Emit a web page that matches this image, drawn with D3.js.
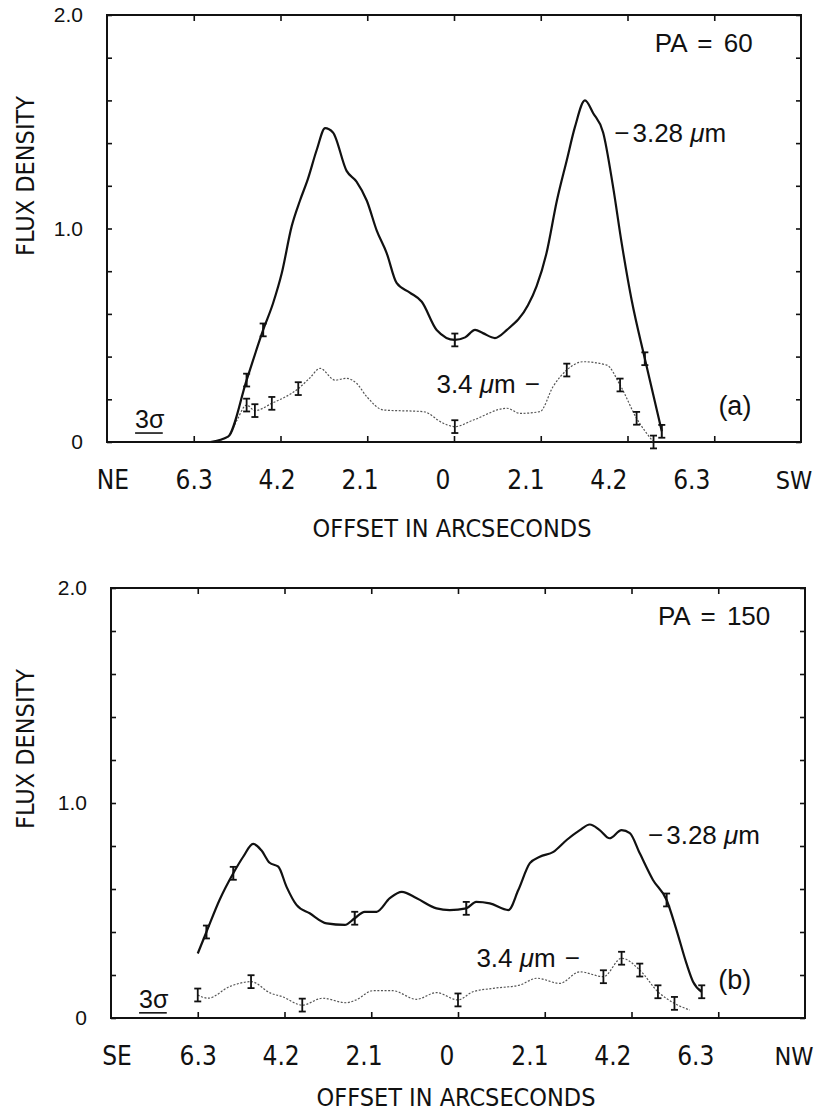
<!DOCTYPE html>
<html>
<head>
<meta charset="utf-8">
<script src="https://cdn.jsdelivr.net/npm/d3@7"></script>
<style>
body { margin: 0; background: #fff; }
svg { display: block; }
</style>
</head>
<body>
<script>
// offsets in arcsec (negative = NE / SE side), flux density in plot units

// panel (a), PA = 60
var offA328  = [-5.9, -5.47, -5.02, -4.62, -4.38, -4.17, -3.93, -3.73, -3.54, -3.32, -3.12, -2.93, -2.6, -2.36, -2.11, -1.87, -1.63, -1.39, -1.07, -0.78, -0.42, 0.02, 0.27, 0.51, 0.7, 0.99, 1.28, 1.79, 2.0, 2.24, 2.49, 2.73, 2.93, 3.17, 3.37, 3.61, 3.85, 4.06, 4.3, 4.62, 5.03];
var fluxA328 = [0, 0.025, 0.29, 0.525, 0.65, 0.79, 1.01, 1.13, 1.23, 1.37, 1.47, 1.45, 1.27, 1.22, 1.13, 0.99, 0.885, 0.745, 0.70, 0.657, 0.525, 0.478, 0.49, 0.525, 0.51, 0.487, 0.525, 0.64, 0.73, 0.885, 1.13, 1.32, 1.477, 1.60, 1.54, 1.45, 1.196, 0.93, 0.665, 0.39, 0.05];
var offA34   = [-5.9, -5.47, -5.26, -5.02, -4.82, -4.41, -3.77, -3.49, -3.24, -2.88, -2.6, -2.36, -2.11, -1.71, -0.74, -0.26, 0.02, 0.47, 1.28, 1.6, 2.08, 2.4, 2.73, 3.13, 3.7, 4.02, 4.42, 4.83];
var fluxA34  = [0, 0.025, 0.10, 0.173, 0.147, 0.181, 0.25, 0.30, 0.345, 0.29, 0.298, 0.275, 0.212, 0.15, 0.142, 0.088, 0.072, 0.103, 0.158, 0.134, 0.142, 0.26, 0.337, 0.376, 0.36, 0.267, 0.111, 0.0];
var errA328  = [-5.02, -4.62, 0.02, 4.62, 5.03];
var errA34   = [-5.02, -4.82, -4.41, -3.77, 0.02, 2.73, 4.02, 4.42, 4.83];

// panel (b), PA = 150
var offB328  = [-6.3, -6.09, -5.77, -5.44, -5.2, -4.96, -4.76, -4.56, -4.35, -4.15, -3.91, -3.59, -3.18, -2.74, -2.5, -2.26, -1.97, -1.65, -1.36, -1.0, -0.52, -0.2, 0.2, 0.44, 0.77, 1.22, 1.46, 1.74, 1.98, 2.31, 2.63, 2.95, 3.19, 3.43, 3.67, 3.96, 4.16, 4.4, 4.72, 5.05, 5.29, 5.53, 5.69, 5.9];
var fluxB328 = [0.30, 0.40, 0.55, 0.673, 0.75, 0.81, 0.78, 0.722, 0.704, 0.61, 0.526, 0.487, 0.44, 0.433, 0.464, 0.494, 0.494, 0.557, 0.587, 0.557, 0.51, 0.502, 0.51, 0.54, 0.533, 0.502, 0.595, 0.72, 0.75, 0.773, 0.828, 0.874, 0.90, 0.874, 0.836, 0.874, 0.86, 0.766, 0.642, 0.549, 0.409, 0.254, 0.169, 0.122];
var offB34   = [-6.3, -6.05, -5.53, -5.01, -4.53, -4.25, -3.77, -3.28, -2.71, -2.47, -2.06, -1.58, -1.01, -0.52, 0.0, 0.36, 0.85, 1.49, 1.91, 2.46, 2.95, 3.52, 3.96, 4.4, 4.84, 5.24, 5.61];
var fluxB34  = [0.107, 0.092, 0.146, 0.169, 0.115, 0.099, 0.06, 0.092, 0.071, 0.084, 0.127, 0.127, 0.087, 0.118, 0.084, 0.122, 0.138, 0.153, 0.185, 0.161, 0.215, 0.192, 0.278, 0.223, 0.122, 0.068, 0.037];
var errB328  = [-6.09, -5.44, -2.5, 0.2, 5.05, 5.9];
var errB34   = [-6.3, -5.01, -3.77, 0.0, 3.52, 3.96, 4.4, 4.84, 5.24];

// axes
var xTicks = [-6.3, -4.2, -2.1, 0, 2.1, 4.2, 6.3];
var yTicks = [0, 0.2, 0.4, 0.6, 0.8, 1.0, 1.2, 1.4, 1.6, 1.8, 2.0];
var yLabels = [0, 1, 2];
var errHalf = 0.03;      // half length of the error bars
var threeSigma = [0.042, 0.024];

var narrow = "'Liberation Sans Narrow', 'DejaVu Sans Condensed', 'Liberation Sans', sans-serif";
var regular = "'Liberation Sans', Arial, sans-serif";

var svg = d3.select("body").append("svg")
  .attr("width", 816).attr("height", 1114);

var panels = [
  {top: 15, bottom: 442, left: 107, right: 801, ends: ["NE", "SW"], pa: "PA = 60", tag: "(a)", titleDy: 86, endR: 7,
   off328: offA328, flux328: fluxA328, off34: offA34, flux34: fluxA34, err328: errA328, err34: errA34, sig: threeSigma[0],
   lab328: [3.88, 1.45], lab34: [2.08, 0.27], labTag: [6.4, 0.17], labPa: [4.86, 1.87]},
  {top: 588, bottom: 1018, left: 111, right: 805, ends: ["SE", "NW"], pa: "PA = 150", tag: "(b)", titleDy: 79, endR: 11,
   off328: offB328, flux328: fluxB328, off34: offB34, flux34: fluxB34, err328: errB328, err34: errB34, sig: threeSigma[1],
   lab328: [4.6, 0.85], lab34: [2.95, 0.28], labTag: [6.3, 0.18], labPa: [4.84, 1.87]}
];

panels.forEach(function (p) {
  var x = d3.scaleLinear().domain([-8.4, 8.4]).range([p.left, p.right]);
  var y = d3.scaleLinear().domain([0, 2]).range([p.bottom, p.top]);
  // tick labels were typeset a bit tighter than the ticks
  var c = (p.left + p.right) / 2, hw = (p.right - p.left) / 2;
  var xLab = d3.scaleLinear().domain([-8.4, 8.4]).range([c - 0.956 * hw - 11.5, c + 0.956 * hw - 11.5]);

  var g = svg.append("g");

  // inward ticks, all four sides
  g.append("g").attr("transform", "translate(0," + p.bottom + ")")
    .call(d3.axisBottom(x).tickValues(xTicks).tickSize(-6).tickFormat(""));
  g.append("g").attr("transform", "translate(0," + p.top + ")")
    .call(d3.axisTop(x).tickValues(xTicks).tickSize(-6).tickFormat(""));
  g.append("g").attr("transform", "translate(" + p.left + ",0)")
    .call(d3.axisLeft(y).tickValues(yTicks).tickSize(-5).tickFormat(""));
  g.append("g").attr("transform", "translate(" + p.right + ",0)")
    .call(d3.axisRight(y).tickValues(yTicks).tickSize(-5).tickFormat(""));
  g.selectAll(".domain").remove();
  g.selectAll(".tick line").attr("stroke", "#111").attr("stroke-width", 1.6);

  g.append("rect")
    .attr("x", p.left).attr("y", p.top)
    .attr("width", p.right - p.left).attr("height", p.bottom - p.top)
    .attr("fill", "none").attr("stroke", "#111").attr("stroke-width", 2);

  // y tick labels
  var yl = g.append("g").attr("transform", "translate(" + p.left + ",0)")
    .call(d3.axisLeft(y).tickValues(yLabels).tickSize(0).tickPadding(24)
      .tickFormat(function (d) { return d === 0 ? "0" : d.toFixed(1); }));
  yl.select(".domain").remove();
  yl.attr("font-family", regular).attr("font-size", 21);
  yl.selectAll("text").attr("fill", "#111");

  // x tick labels
  var xl = g.append("g").attr("transform", "translate(0," + (p.bottom + 38) + ")")
    .call(d3.axisBottom(xLab).tickValues(xTicks).tickSize(0)
      .tickFormat(function (d) { return d === 0 ? "0" : Math.abs(d).toFixed(1); }));
  xl.select(".domain").remove();
  xl.attr("font-family", narrow).attr("font-size", 26);
  xl.selectAll("text").attr("y", 0).attr("dy", "0.35em").attr("fill", "#111");

  g.append("text").attr("x", p.left + 6).attr("y", p.bottom + 38).attr("dy", "0.35em")
    .attr("text-anchor", "middle").attr("font-family", narrow).attr("font-size", 26).attr("fill", "#111")
    .text(p.ends[0]);
  g.append("text").attr("x", p.right - p.endR).attr("y", p.bottom + 38).attr("dy", "0.35em")
    .attr("text-anchor", "middle").attr("font-family", narrow).attr("font-size", 25).attr("fill", "#111")
    .text(p.ends[1]);

  // axis titles
  g.append("text").attr("x", c - 2).attr("y", p.bottom + p.titleDy).attr("dy", "0.35em")
    .attr("text-anchor", "middle").attr("font-family", narrow).attr("font-size", 25).attr("fill", "#111")
    .text("OFFSET IN ARCSECONDS");
  g.append("text")
    .attr("transform", "translate(25," + (p.top + 161) + ") rotate(-90)")
    .attr("dy", "0.35em").attr("text-anchor", "middle")
    .attr("font-family", narrow).attr("font-size", 25).attr("fill", "#111")
    .text("FLUX DENSITY");

  // curves
  var line = d3.line()
    .x(function (d) { return x(d[0]); })
    .y(function (d) { return y(d[1]); })
    .curve(d3.curveMonotoneX);

  var s328 = d3.zip(p.off328, p.flux328);
  var s34 = d3.zip(p.off34, p.flux34);

  g.append("path").datum(s34).attr("d", line)
    .attr("fill", "none").attr("stroke", "#555").attr("stroke-width", 1.2)
    .attr("stroke-dasharray", "2,1.6");
  g.append("path").datum(s328).attr("d", line)
    .attr("fill", "none").attr("stroke", "#111").attr("stroke-width", 2.2);

  // error bars
  function errBars(offs, series, w) {
    var pts = offs.map(function (o) {
      return series.find(function (d) { return d[0] === o; });
    });
    var eb = g.append("g").selectAll("g").data(pts).enter().append("g");
    eb.append("line")
      .attr("x1", function (d) { return x(d[0]); }).attr("x2", function (d) { return x(d[0]); })
      .attr("y1", function (d) { return y(d[1] - errHalf); }).attr("y2", function (d) { return y(d[1] + errHalf); })
      .attr("stroke", "#111").attr("stroke-width", w);
    [-errHalf, errHalf].forEach(function (e) {
      eb.append("line")
        .attr("x1", function (d) { return x(d[0]) - 3.5; }).attr("x2", function (d) { return x(d[0]) + 3.5; })
        .attr("y1", function (d) { return y(d[1] + e); }).attr("y2", function (d) { return y(d[1] + e); })
        .attr("stroke", "#111").attr("stroke-width", 1.8);
    });
  }
  errBars(p.err328, s328, 2);
  errBars(p.err34, s34, 1.8);

  // 3 sigma marker
  g.append("line")
    .attr("x1", x(-7.72)).attr("x2", x(-7.05))
    .attr("y1", y(p.sig)).attr("y2", y(p.sig))
    .attr("stroke", "#111").attr("stroke-width", 1.6);
  g.append("text").attr("x", x(-7.72)).attr("y", y(p.sig) - 5)
    .attr("font-family", regular).attr("font-size", 25).attr("fill", "#111")
    .text("3σ");

  // annotations
  var t1 = g.append("text").attr("x", x(p.lab328[0])).attr("y", y(p.lab328[1])).attr("dy", "0.35em")
    .attr("font-family", regular).attr("font-size", 26).attr("fill", "#111");
  t1.append("tspan").text("\u2212");
  t1.append("tspan").attr("dx", 3).text("3.28 ");
  t1.append("tspan").attr("font-style", "italic").text("μ");
  t1.append("tspan").text("m");

  var t2 = g.append("text").attr("x", x(p.lab34[0])).attr("y", y(p.lab34[1])).attr("dy", "0.35em")
    .attr("text-anchor", "end")
    .attr("font-family", regular).attr("font-size", 26).attr("fill", "#111");
  t2.append("tspan").text("3.4 ");
  t2.append("tspan").attr("font-style", "italic").text("μ");
  t2.append("tspan").text("m");
  t2.append("tspan").attr("dx", 9).text("\u2212");

  g.append("text").attr("x", x(p.labTag[0])).attr("y", y(p.labTag[1])).attr("dy", "0.35em")
    .attr("font-family", regular).attr("font-size", 27).attr("fill", "#111")
    .text(p.tag);
  g.append("text").attr("x", x(p.labPa[0])).attr("y", y(p.labPa[1])).attr("dy", "0.35em")
    .attr("font-family", regular).attr("font-size", 26).attr("fill", "#111")
    .attr("word-spacing", 4)
    .text(p.pa);
});
</script>
</body>
</html>
